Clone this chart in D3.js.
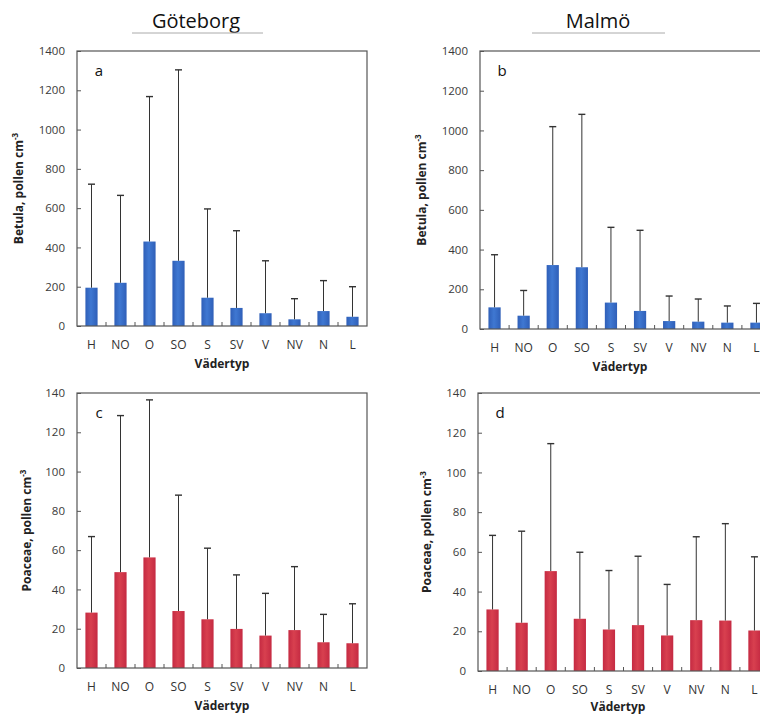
<!DOCTYPE html>
<html>
<head>
<meta charset="utf-8">
<script src="https://cdn.jsdelivr.net/npm/d3@7"></script>
<style>
  html, body { margin: 0; padding: 0; background: #fff; }
  svg { display: block; font-family: "Open Sans", "Noto Sans", sans-serif; }
</style>
</head>
<body>
<svg id="chart" width="760" height="717"></svg>
<script>
// Weather types (Vädertyp)
const categories = ["H", "NO", "O", "SO", "S", "SV", "V", "NV", "N", "L"];

// Mean pollen counts and mean + SD per weather type
const gbgBetulaMean  = [195, 220, 430, 332, 144, 92, 65, 34, 76, 47];
const gbgBetulaUpper = [722, 665, 1168, 1304, 596, 485, 332, 139, 231, 200];
const mlmBetulaMean  = [109, 67, 322, 311, 133, 91, 40, 37, 32, 32];
const mlmBetulaUpper = [374, 194, 1019, 1081, 512, 497, 166, 151, 116, 129];
const gbgPoaceaeMean  = [28.2, 48.8, 56.3, 29.0, 24.8, 19.9, 16.5, 19.3, 13.1, 12.6];
const gbgPoaceaeUpper = [66.9, 128.5, 136.5, 88.0, 61.0, 47.4, 38.0, 51.6, 27.3, 32.7];
const mlmPoaceaeMean  = [31.0, 24.3, 50.3, 26.3, 20.9, 23.1, 17.9, 25.6, 25.4, 20.4];
const mlmPoaceaeUpper = [68.3, 70.4, 114.5, 59.8, 50.6, 57.8, 43.6, 67.6, 74.2, 57.5];

const betulaTicks  = [0, 200, 400, 600, 800, 1000, 1200, 1400];
const poaceaeTicks = [0, 20, 40, 60, 80, 100, 120, 140];

const cities = [
  { name: "Göteborg", cx: 196, x1: 132, x2: 263 },
  { name: "Malmö",    cx: 598, x1: 532, x2: 665 }
];

const panels = [
  { letter: "a", taxon: "Betula",  mean: gbgBetulaMean,  upper: gbgBetulaUpper, ticks: betulaTicks,
    box: { l: 77,  t: 51,  r: 367, b: 326 }, ylabX: 20, xTitleX: 222, color: "blue" },
  { letter: "b", taxon: "Betula",  mean: mlmBetulaMean,  upper: mlmBetulaUpper, ticks: betulaTicks,
    box: { l: 480, t: 51,  r: 771, b: 329 }, ylabX: 423, xTitleX: 620, color: "blue" },
  { letter: "c", taxon: "Poaceae", mean: gbgPoaceaeMean, upper: gbgPoaceaeUpper, ticks: poaceaeTicks,
    box: { l: 77,  t: 393, r: 367, b: 668 }, ylabX: 28, xTitleX: 222, color: "red" },
  { letter: "d", taxon: "Poaceae", mean: mlmPoaceaeMean, upper: mlmPoaceaeUpper, ticks: poaceaeTicks,
    box: { l: 478, t: 393, r: 769, b: 671 }, ylabX: 428, xTitleX: 618, color: "red" }
];

const svg = d3.select("#chart");
const defs = svg.append("defs");

// Slight side shading on the bars
function barGradient(id, edge, mid) {
  const g = defs.append("linearGradient").attr("id", id)
    .attr("x1", "0%").attr("x2", "100%").attr("y1", "0%").attr("y2", "0%");
  g.append("stop").attr("offset", "0%").attr("stop-color", edge);
  g.append("stop").attr("offset", "45%").attr("stop-color", mid);
  g.append("stop").attr("offset", "100%").attr("stop-color", edge);
}
barGradient("blue", "#2f5fb8", "#3f78d2");
barGradient("red", "#c52a42", "#d8404f");

// City headings with a rule underneath
cities.forEach(c => {
  svg.append("text").attr("x", c.cx).attr("y", 28)
    .attr("text-anchor", "middle").attr("font-size", 20).attr("fill", "#111")
    .text(c.name);
  svg.append("line").attr("x1", c.x1).attr("x2", c.x2).attr("y1", 33).attr("y2", 33)
    .attr("stroke", "#aaa").attr("stroke-width", 1);
});

panels.forEach(p => {
  const { l, t, r, b } = p.box;
  const g = svg.append("g");

  const x = d3.scaleBand().domain(categories).range([l, r]).padding(0);
  const y = d3.scaleLinear().domain([0, p.ticks[p.ticks.length - 1]]).range([b, t]);
  const bw = x.bandwidth() * 0.42;

  // Bars
  g.selectAll("rect.bar").data(categories).join("rect")
    .attr("class", "bar")
    .attr("x", (d) => x(d) + (x.bandwidth() - bw) / 2)
    .attr("width", bw)
    .attr("y", (d, i) => y(p.mean[i]))
    .attr("height", (d, i) => b - y(p.mean[i]))
    .attr("fill", `url(#${p.color})`);

  // Upper error bars (mean to mean + SD)
  const cxOf = (d) => x(d) + x.bandwidth() / 2;
  g.selectAll("line.err").data(categories).join("line")
    .attr("class", "err")
    .attr("x1", cxOf).attr("x2", cxOf)
    .attr("y1", (d, i) => y(p.mean[i]))
    .attr("y2", (d, i) => y(p.upper[i]))
    .attr("stroke", "#333").attr("stroke-width", 1);
  g.selectAll("line.cap").data(categories).join("line")
    .attr("class", "cap")
    .attr("x1", (d) => cxOf(d) - 3.5).attr("x2", (d) => cxOf(d) + 3.5)
    .attr("y1", (d, i) => y(p.upper[i]))
    .attr("y2", (d, i) => y(p.upper[i]))
    .attr("stroke", "#333").attr("stroke-width", 1.4);

  // Plot frame
  g.append("rect").attr("x", l).attr("y", t).attr("width", r - l).attr("height", b - t)
    .attr("fill", "none").attr("stroke", "#555").attr("stroke-width", 1.2);

  // Y axis with inward ticks
  const yAxis = g.append("g").attr("transform", `translate(${l},0)`)
    .call(d3.axisLeft(y).tickValues(p.ticks).tickSize(-4).tickPadding(12).tickFormat(d3.format("d")));
  yAxis.select(".domain").remove();
  yAxis.selectAll(".tick line").attr("stroke", "#555");
  yAxis.selectAll(".tick text").attr("font-size", 11.5).attr("fill", "#3a3a3a")
    .attr("font-family", "'Open Sans', sans-serif");

  // X axis: category labels, inward ticks on category boundaries
  const xAxis = g.append("g").attr("transform", `translate(0,${b})`)
    .call(d3.axisBottom(x).tickSize(0).tickPadding(14));
  xAxis.select(".domain").remove();
  xAxis.selectAll(".tick text").attr("font-size", 12).attr("fill", "#333")
    .attr("font-family", "'Open Sans', sans-serif");
  g.selectAll("line.xtick").data(categories.slice(1)).join("line")
    .attr("class", "xtick")
    .attr("x1", (d) => x(d)).attr("x2", (d) => x(d))
    .attr("y1", b).attr("y2", b - 4)
    .attr("stroke", "#555");

  // X title
  g.append("text").attr("x", p.xTitleX).attr("y", Math.min(b + 42, 711))
    .attr("text-anchor", "middle").attr("font-size", 12).attr("font-weight", "bold").attr("fill", "#222")
    .text("Vädertyp");

  // Y title with superscript
  const ylab = g.append("text")
    .attr("transform", `translate(${p.ylabX},${(t + b) / 2}) rotate(-90)`)
    .attr("text-anchor", "middle").attr("font-size", 12).attr("font-weight", "bold").attr("fill", "#222")
    .attr("dominant-baseline", "middle");
  ylab.append("tspan").text(`${p.taxon}, pollen cm`);
  ylab.append("tspan").attr("font-size", 8).attr("dy", -4).text("-3");

  // Panel letter
  g.append("text").attr("x", l + 22).attr("y", t + 25)
    .attr("text-anchor", "middle").attr("font-size", 15).attr("fill", "#111")
    .text(p.letter);
});
</script>
</body>
</html>
